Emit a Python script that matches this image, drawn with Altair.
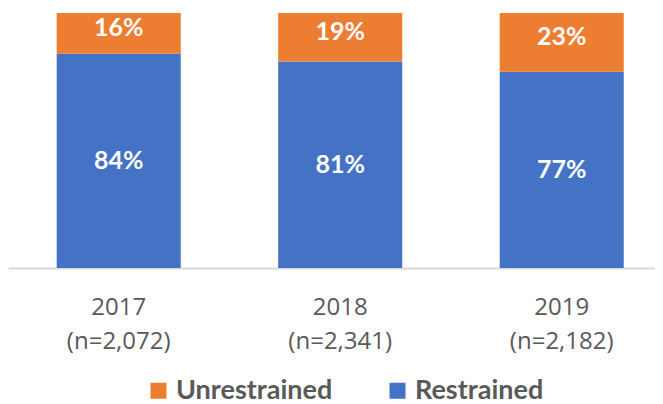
import altair as alt
import pandas as pd

years = ["2017", "2018", "2019"]
sample_sizes = ["2,072", "2,341", "2,182"]
restrained = [84, 81, 77]
unrestrained = [16, 19, 23]

series_names = ["Unrestrained", "Restrained"]
colors = ["#ED7D31", "#4472C4"]

rows = []
for y, n, r, u in zip(years, sample_sizes, restrained, unrestrained):
    cat = f"{y}|(n={n})"
    rows.append({"cat": cat, "series": "Restrained", "value": r, "label": f"{r}%", "order": 0})
    rows.append({"cat": cat, "series": "Unrestrained", "value": u, "label": f"{u}%", "order": 1})
df = pd.DataFrame(rows)
cats = [f"{y}|(n={n})" for y, n in zip(years, sample_sizes)]

x_enc = alt.X(
    "cat:N",
    sort=cats,
    scale=alt.Scale(paddingInner=0.44, paddingOuter=0.1805, align=0.609),
    axis=alt.Axis(
        title=None,
        labelExpr="split(datum.label, '|')",
        labelAngle=0,
        labelFont="Open Sans",
        labelFontSize=24,
        labelColor="#595959",
        labelPadding=27,
        labelLineHeight=34,
        ticks=False,
        domainColor="#D9D9D9",
        domainWidth=2,
    ),
)

base = alt.Chart(df)

bars = base.mark_bar().encode(
    x=x_enc,
    y=alt.Y("value:Q", stack="zero", scale=alt.Scale(domain=[0, 100]), axis=None),
    color=alt.Color(
        "series:N",
        scale=alt.Scale(domain=series_names, range=colors),
        legend=alt.Legend(
            title=None,
            orient="none",
            direction="horizontal",
            legendX=137,
            legendY=364,
            padding=0,
            symbolType="square",
            symbolSize=256,
            symbolStrokeWidth=0,
            symbolOpacity=1,
            labelFont="Lato",
            labelFontWeight="bold",
            labelFontSize=27,
            labelColor="#595959",
            labelOffset=4,
            columnPadding=51,
        ),
    ),
    order=alt.Order("order:Q"),
)

stacked = base.transform_stack(
    stack="value", groupby=["cat"], as_=["v0", "v1"], sort=[alt.SortField("order")]
).transform_calculate(mid="(datum.v0 + datum.v1) / 2")

label_r = stacked.transform_filter("datum.series == 'Restrained'").mark_text(
    font="Lato", fontWeight="bold", fontSize=25, color="white", baseline="middle"
).encode(x=alt.X("cat:N", sort=cats), y=alt.Y("mid:Q"), text="label:N")

label_u = stacked.transform_filter("datum.series == 'Unrestrained'").mark_text(
    font="Lato", fontWeight="bold", fontSize=25, color="white", baseline="middle", dy=-5
).encode(x=alt.X("cat:N", sort=cats), y=alt.Y("mid:Q"), text="label:N")

chart = (
    alt.layer(bars, label_r, label_u)
    .properties(width=647, height=255, padding={"left": 0, "top": 5, "right": 0, "bottom": 0})
    .configure_view(stroke=None)
)

chart.save("out.html", embed_options={"renderer": "svg", "actions": False})
